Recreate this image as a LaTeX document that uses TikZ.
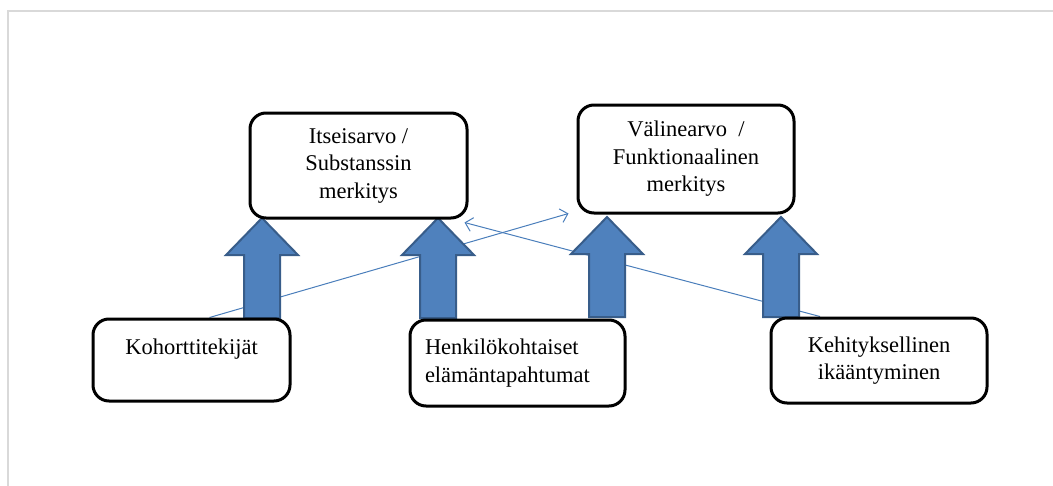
\documentclass[tikz,border=0pt]{standalone}
\usepackage{fontspec}
\setmainfont{Liberation Serif}
\usetikzlibrary{arrows.meta,backgrounds}
\definecolor{arrowfill}{HTML}{4F81BD}
\definecolor{arrowline}{HTML}{385D8A}
\definecolor{thinline}{HTML}{4A7EBB}
\definecolor{frame}{HTML}{D9D9D9}
\tikzset{
  box/.style={draw=black, line width=3pt, rounded corners=16pt, fill=white,
    inner sep=0pt, align=center, font=\fontsize{22.5}{27.5}\selectfont},
  barrow/.style={fill=arrowfill, draw=arrowline, line width=2pt, line join=miter},
  thin/.style={draw=thinline, line width=1pt, -{Straight Barb[length=7pt,width=14pt,line width=1pt]}},
  blockarrow/.pic={\draw[barrow] (-18,100) -- (-18,37) -- (-36,37) -- (0,0) -- (36,37) -- (18,37) -- (18,100) -- cycle;}
}
\begin{document}
\begin{tikzpicture}[x=1pt,y=-1pt]
\useasboundingbox (0,0) rectangle (1053,485);

\node[box, minimum width=217pt, minimum height=105pt] (itse) at (358.5,165.5) {Itseisarvo /\\Substanssin\\merkitys};
\node[box, minimum width=216pt, minimum height=108pt] (vali) at (686,159) {Välinearvo~~/\\Funktionaalinen\\merkitys};
\node[box, minimum width=197pt, minimum height=82pt] (koh) at (191.5,360) {Kohorttitekijät\\\mbox{}};
\node[box, minimum width=215pt, minimum height=86pt, align=left, text width=185pt] (henk) at (517.5,363) {Henkilökohtaiset\\elämäntapahtumat};
\node[box, minimum width=216pt, minimum height=85pt] (keh) at (879,360.5) {Kehityksellinen\\ikääntyminen};

\begin{scope}[on background layer]
\draw[frame, line width=2pt] (8,486) -- (8,11) -- (1054,11);
\draw[thin] ([xshift=18pt]koh.north) -- ([xshift=-8pt,yshift=1pt]vali.south west);
\draw[thin] ([xshift=-59pt]keh.north) -- ([xshift=-4pt,yshift=-3pt]itse.south east);
\pic at (262,218) {blockarrow};
\pic at (438,218) {blockarrow};
\pic at (607,217) {blockarrow};
\pic at (781,217) {blockarrow};
\end{scope}
\end{tikzpicture}
\end{document}
